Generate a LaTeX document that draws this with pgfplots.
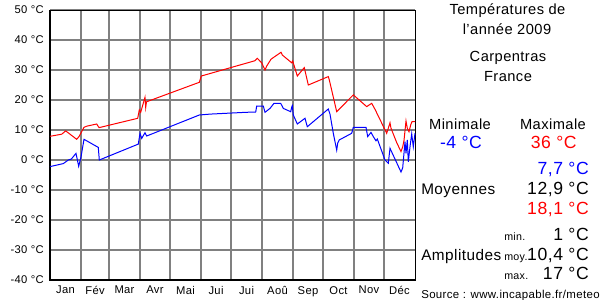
\documentclass[border=0pt]{standalone}
\usepackage{fontspec}
\setmainfont[LetterSpace=3]{Liberation Sans}
\usepackage{pgfplots}
\pgfplotsset{compat=1.18}
\newcommand{\fs}[1]{\fontsize{#1}{#1}\selectfont}
\begin{document}
\begin{tikzpicture}[x=0.75pt,y=0.75pt]
\useasboundingbox (0,0) rectangle (600,300);
\begin{axis}[
  at={(37.5pt,15pt)}, anchor=south west,
  scale only axis, width=273.75pt, height=202.5pt,
  xmin=0, xmax=365, ymin=-40, ymax=50,
  axis line style={black, line width=0.75pt},
  ytick={-40,-30,...,50},
  yticklabels={{-40 °C},{-30 °C},{-20 °C},{-10 °C},{0 °C},{10 °C},{20 °C},{30 °C},{40 °C},{50 °C}},
  xtick={15.5,45,74.5,105,135.5,166,196.5,227.5,258,288.5,319,349.5},
  xticklabels={Jan,Fév,Mar,Avr,Mai,Jui,Jui,Aoû,Sep,Oct,Nov,Déc},
  minor xtick={31,59,90,120,151,181,212,243,273,304,334},
  major tick length=0pt, minor tick length=0pt,
  ymajorgrids=true, xminorgrids=true, xmajorgrids=false,
  grid style={gray, line width=0.8pt},
  minor grid style={gray, line width=0.8pt},
  yticklabel style={font=\fs{8.4pt}, anchor=east, inner sep=0pt, xshift=-4.5pt},
  xticklabel style={font=\fs{8.4pt}, anchor=north, inner sep=0pt, yshift=-4.5pt},
  /pgf/number format/assume math mode=true,
  clip=false,
]
\addplot[red, line width=0.75pt] coordinates {
(0,7.9) (11.7,8.6) (15.7,9.7) (26.7,6.9) (29,7.8) (34,10.9) (37,11.3) (46.7,12) (49,10.8) (51.7,11)
(87.7,13.9) (89.3,16.7) (90.7,15.9) (95,20.9) (95.7,17.5) (96.5,19.4) (149.3,25.9) (151.3,28)
(205,33.1) (207.3,33.9) (211.7,32.4) (215,30) (216.7,31.3) (221,33.6) (231,35.9) (232.3,35)
(241.7,32.4) (242.7,33) (247.3,28) (254.3,30.8) (258.3,25) (278.3,27.8) (279.3,26.7) (286.7,16.1)
(303.3,21.7) (316.7,17.8) (321.7,18.9) (325,16.9) (336.7,8.9) (340,12.4) (341,10.6) (346.7,5.8)
(351,2.8) (352.7,4.4) (354,6.5) (356,13) (357.3,10.6) (359,9.4) (360.7,11.7) (362,12.8) (365,12.8)
};
\addplot[blue, line width=0.75pt] coordinates {
(0,-2.2) (13.3,-1.2) (18.3,0) (21.3,0.3) (24.7,1.7) (26,2.2) (28.7,-2.1) (31,1) (34,6.9) (48.3,4.2)
(49.3,0) (88.3,5.3) (90,8.9) (91.7,7.2) (95,9.1) (96.7,8) (149.3,15) (160,15.3) (178,15.6) (196,15.9)
(205.7,16) (206.7,18) (213.3,18) (215,15.9) (220,17.2) (224,18.9) (230.7,18.9) (233.3,17.2)
(240.7,16.1) (241.7,17.6) (242.3,18.1) (243.3,15) (247.3,12) (255,13.9) (257.3,11.1) (278.3,17)
(280,15.3) (283.3,8.9) (286.7,3.3) (287.7,5.6) (289.3,6.7) (301.7,8.9) (303.3,10.9) (316,10.9)
(317.7,7.8) (321,9.2) (323.3,7.8) (326,6.4) (327.3,7) (335,0) (338.3,-1.1) (340,3.9) (351,-4)
(352.7,-2.6) (355,6.1) (356,2.2) (357.3,6.7) (358.3,-0.6) (360,4.4) (361.7,8.7) (363.3,4.4) (365,8.9)
};
\end{axis}
\begin{scope}[every node/.style={inner sep=0pt}]
\node[anchor=base, font=\fs{11pt}] at (507.5,285) {Températures de};
\node[anchor=base, font=\fs{11pt}] at (507,265) {l'année 2009};
\node[anchor=base, font=\fs{11pt}] at (508,238) {Carpentras};
\node[anchor=base, font=\fs{11pt}] at (508,218) {France};
\node[anchor=base, font=\fs{11pt}] at (460,170) {Minimale};
\node[anchor=base, font=\fs{11pt}] at (553,170) {Maximale};
\node[anchor=base, font=\fs{13.2pt}, text=blue] at (461,151) {-4 °C};
\node[anchor=base, font=\fs{13.2pt}, text=red] at (553.7,151) {36 °C};
\node[anchor=base east, font=\fs{13.2pt}, text=blue] at (589,125) {7,7 °C};
\node[anchor=base east, font=\fs{13.2pt}] at (589,105) {12,9 °C};
\node[anchor=base east, font=\fs{13.2pt}, text=red] at (589,85.7) {18,1 °C};
\node[anchor=base west, font=\fs{11.5pt}] at (421,105) {Moyennes};
\node[anchor=base east, font=\fs{13.2pt}] at (589,60) {1 °C};
\node[anchor=base east, font=\fs{13.2pt}] at (589,40) {10,4 °C};
\node[anchor=base east, font=\fs{13.2pt}] at (589,20.7) {17 °C};
\node[anchor=base west, font=\fs{11.5pt}] at (421,40) {Amplitudes};
\node[anchor=base west, font=\fs{8pt}] at (504,60) {min.};
\node[anchor=base west, font=\fs{8pt}] at (504,40) {moy.};
\node[anchor=base west, font=\fs{8pt}] at (504,21) {max.};
\node[anchor=base west, font=\fs{8.6pt}] at (421,2) {Source : www.incapable.fr/meteo};
\end{scope}
\end{tikzpicture}
\end{document}
